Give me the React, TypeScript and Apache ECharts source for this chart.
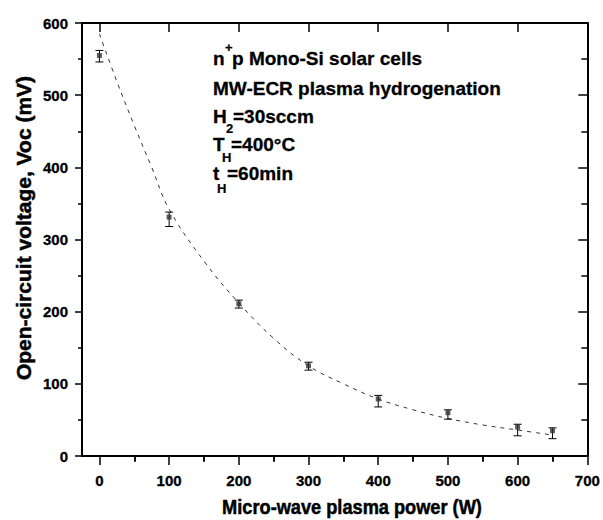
import React, { useEffect, useRef } from "react";
import * as echarts from "echarts";

// measured points (W, mV) with error-bar ends
const powers = [0, 100, 200, 300, 400, 500, 600, 650];
const voc = [555, 331, 211, 125, 79, 60, 40, 35];
const vocLow = [546, 318, 205, 119, 68, 51, 28, 24];
const vocHigh = [562, 338, 216, 130, 84, 64, 44, 39];

// dashed fit curve
const fitPowers = [0, 25, 50, 75, 100, 150, 200, 250, 300, 350, 400, 450, 500, 550, 600, 650];
const fitVoc = [585, 519, 458, 400, 342, 270, 212, 163, 125, 100, 79, 64, 52, 43, 36, 29];

// axis ticks
const xMajor = [0, 100, 200, 300, 400, 500, 600, 700];
const xMinor = [50, 150, 250, 350, 450, 550, 650];

const xTitle = "Micro-wave plasma power (W)";
const yTitle = "Open-circuit voltage, Voc (mV)";

const FONT = "'Liberation Sans', Arial, sans-serif";

export default function App() {
  const ref = useRef<HTMLDivElement>(null);
  useEffect(() => {
    if (!ref.current) return;
    const chart = echarts.init(ref.current, null, { renderer: "svg" });
    const axisLine = { show: true, onZero: false, lineStyle: { color: "#000", width: 2 } };
    const tickLS = { color: "#000", width: 1.5 };
    const labelStyle = {
      color: "#000", fontWeight: "bold" as const, fontSize: 15, fontFamily: FONT,
      textBorderColor: "#000", textBorderWidth: 0.3,
    };
    const xBase = { type: "value" as const, min: -25, max: 700, splitLine: { show: false } };
    const yBase = { type: "value" as const, min: 0, max: 600, interval: 100, splitLine: { show: false } };

    const mainStyle = { fill: "#000", fontSize: 19, fontWeight: "bold", fontFamily: FONT, stroke: "#000", lineWidth: 0.3 };
    const subStyle = { fill: "#000", fontSize: 13, fontWeight: "bold", fontFamily: FONT, stroke: "#000", lineWidth: 0.2 };
    const txt = (x: number, y: number, text: string, st: any) => ({
      type: "text", x, y, style: { ...st, text, align: "left", verticalAlign: "middle" },
    });
    const b = [65, 95, 123, 151, 180];
    const mid = (bl: number) => bl - 6.6;

    chart.setOption({
      animation: false,
      backgroundColor: "#fff",
      grid: { left: 82, right: 13, top: 23, bottom: 64 },
      xAxis: [
        {
          ...xBase, position: "bottom", axisLine,
          axisTick: { show: true, inside: false, length: 9, customValues: xMajor, lineStyle: tickLS },
          axisLabel: { ...labelStyle, customValues: xMajor, margin: 17 },
        },
        {
          ...xBase, position: "bottom", axisLine: { show: false },
          axisTick: { show: true, inside: false, length: 5, customValues: xMinor, lineStyle: tickLS },
          axisLabel: { show: false },
        },
        {
          ...xBase, position: "top", axisLine,
          axisTick: { show: true, inside: true, length: 9, customValues: xMajor, lineStyle: tickLS },
          axisLabel: { show: false },
        },
        {
          ...xBase, position: "top", axisLine: { show: false },
          axisTick: { show: true, inside: true, length: 6, customValues: xMinor, lineStyle: tickLS },
          axisLabel: { show: false },
        },
      ],
      yAxis: [
        {
          ...yBase, position: "left", axisLine,
          axisTick: { show: true, inside: false, length: 7, lineStyle: tickLS },
          minorTick: { show: true, splitNumber: 2, length: 4, lineStyle: tickLS },
          minorSplitLine: { show: false },
          axisLabel: { ...labelStyle, margin: 14 },
        },
        {
          ...yBase, position: "right", axisLine,
          axisTick: { show: true, inside: true, length: 9, lineStyle: tickLS },
          minorTick: { show: true, splitNumber: 2, length: 6, lineStyle: tickLS },
          minorSplitLine: { show: false },
          axisLabel: { show: false },
        },
      ],
      series: [
        {
          type: "line",
          xAxisIndex: 0, yAxisIndex: 0,
          data: fitPowers.map((p, i) => [p, fitVoc[i]]),
          smooth: 0.4,
          showSymbol: false,
          lineStyle: { color: "#333", width: 1, type: [4, 5] },
          z: 2,
        },
        {
          type: "custom",
          xAxisIndex: 0, yAxisIndex: 0,
          data: powers.map((p, i) => [p, vocLow[i], vocHigh[i]]),
          encode: { x: 0, y: [1, 2] },
          renderItem: (params: any, api: any) => {
            const lo = api.coord([api.value(0), api.value(1)]);
            const hi = api.coord([api.value(0), api.value(2)]);
            const hw = 4;
            const style = { stroke: "#000", lineWidth: 1 };
            return {
              type: "group",
              children: [
                { type: "line", shape: { x1: lo[0], y1: lo[1], x2: hi[0], y2: hi[1] }, style },
                { type: "line", shape: { x1: lo[0] - hw, y1: lo[1], x2: lo[0] + hw, y2: lo[1] }, style },
                { type: "line", shape: { x1: hi[0] - hw, y1: hi[1], x2: hi[0] + hw, y2: hi[1] }, style },
              ],
            };
          },
          z: 3,
        },
        {
          type: "scatter",
          xAxisIndex: 0, yAxisIndex: 0,
          data: powers.map((p, i) => [p, voc[i]]),
          symbol: "rect",
          symbolSize: 5,
          itemStyle: { color: "#333" },
          z: 4,
        },
      ],
      graphic: [
        {
          type: "text", x: 352, y: 507, scaleX: 0.91,
          style: {
            text: xTitle, fill: "#000", fontSize: 20, fontWeight: "bold", fontFamily: FONT,
            stroke: "#000", lineWidth: 0.5, align: "center", verticalAlign: "middle",
          },
        },
        {
          type: "text", x: 24, y: 228, rotation: Math.PI / 2, scaleX: 1.05,
          style: {
            text: yTitle, fill: "#000", fontSize: 20, fontWeight: "bold", fontFamily: FONT,
            stroke: "#000", lineWidth: 0.5, align: "center", verticalAlign: "middle",
          },
        },
        txt(213, mid(b[0]), "n", mainStyle),
        txt(225, 47, "+", subStyle),
        txt(232, mid(b[0]), "p Mono-Si solar cells", mainStyle),
        txt(213, mid(b[1]), "MW-ECR plasma hydrogenation", mainStyle),
        txt(213, mid(b[2]), "H", mainStyle),
        txt(226, b[2] + 5, "2", subStyle),
        txt(233, mid(b[2]), "=30sccm", mainStyle),
        txt(213, mid(b[3]), "T", mainStyle),
        txt(222, b[3] + 6, "H", subStyle),
        txt(231, mid(b[3]), "=400°C", mainStyle),
        txt(213, mid(b[4]), "t", mainStyle),
        txt(217, b[4] + 8, "H", subStyle),
        txt(227, mid(b[4]), "=60min", mainStyle),
      ],
    });
    return () => chart.dispose();
  }, []);
  return <div ref={ref} style={{ position: "fixed", left: 0, top: 0, width: 603, height: 520 }} />;
}
